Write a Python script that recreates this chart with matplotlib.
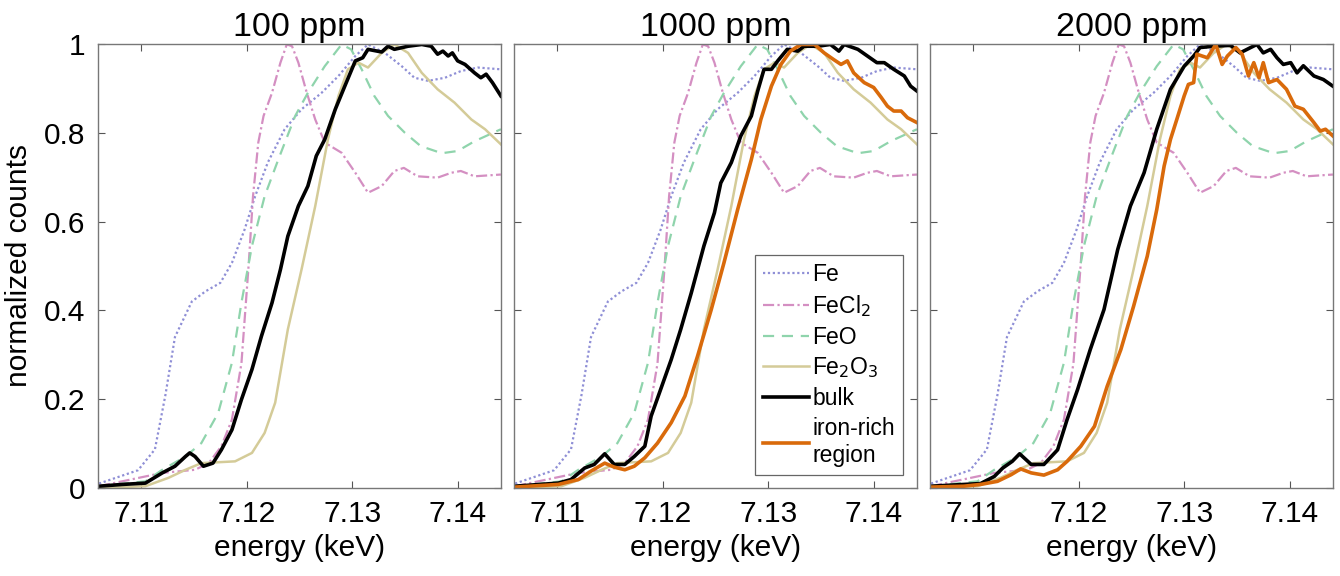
import matplotlib
matplotlib.use('Agg')
import matplotlib.pyplot as plt

plt.rcParams['font.family'] = ['Liberation Sans', 'DejaVu Sans']

# reference spectra (same in every panel)
fe_e = [7.106, 7.1097, 7.1113, 7.1123, 7.1132, 7.1148, 7.1161, 7.1175, 7.1186, 7.1198, 7.1208,
        7.1220, 7.1236, 7.1252, 7.1271, 7.1287, 7.1303, 7.1315, 7.1331, 7.1347, 7.1359, 7.1372,
        7.1388, 7.1403, 7.1419, 7.1441]
fe_y = [0.01, 0.04, 0.087, 0.21, 0.34, 0.42, 0.443, 0.462, 0.507, 0.582, 0.657,
        0.733, 0.808, 0.853, 0.89, 0.928, 0.973, 0.999, 0.98, 0.95, 0.924, 0.917,
        0.924, 0.939, 0.947, 0.943]

fecl2_e = [7.106, 7.112, 7.1151, 7.1164, 7.1176, 7.1186, 7.1195, 7.1202, 7.1206, 7.1211, 7.1216,
           7.1224, 7.1232, 7.1238, 7.1243, 7.1249, 7.1257, 7.1265, 7.1274, 7.129, 7.1303, 7.1315,
           7.1328, 7.1340, 7.1349, 7.1362, 7.1381, 7.1394, 7.1403, 7.1416, 7.1441]
fecl2_y = [0.004, 0.034, 0.041, 0.056, 0.094, 0.154, 0.28, 0.507, 0.657, 0.778, 0.838,
           0.89, 0.958, 0.999, 0.995, 0.958, 0.89, 0.83, 0.778, 0.755, 0.71, 0.665,
           0.68, 0.714, 0.721, 0.702, 0.699, 0.71, 0.714, 0.702, 0.706]

feo_e = [7.106, 7.1104, 7.112, 7.1142, 7.1157, 7.1173, 7.1186, 7.1195, 7.1205, 7.1217, 7.123,
         7.1246, 7.1258, 7.1274, 7.129, 7.1299, 7.1309, 7.1321, 7.1334, 7.135, 7.1365, 7.1385,
         7.14, 7.1416, 7.1441]
feo_y = [0.004, 0.015, 0.041, 0.071, 0.101, 0.169, 0.282, 0.417, 0.545, 0.657, 0.74,
         0.838, 0.89, 0.95, 0.999, 0.988, 0.943, 0.883, 0.838, 0.8, 0.77, 0.754,
         0.759, 0.781, 0.808]

fe2o3_e = [7.106, 7.1104, 7.1126, 7.1142, 7.1157, 7.1189, 7.1205, 7.1217, 7.1227, 7.1239, 7.1252,
           7.1265, 7.1277, 7.1287, 7.1296, 7.1306, 7.1315, 7.1328, 7.134, 7.1353, 7.1366, 7.1381,
           7.1397, 7.1413, 7.1426, 7.1441]
fe2o3_y = [0.0, 0.004, 0.023, 0.041, 0.056, 0.06, 0.079, 0.124, 0.192, 0.357, 0.492,
           0.635, 0.785, 0.883, 0.943, 0.958, 0.947, 0.98, 0.999, 0.98, 0.935, 0.898,
           0.868, 0.83, 0.808, 0.774]

# bulk spectra, one per concentration
bulk_e = [
    [7.106, 7.1082, 7.1104, 7.112, 7.1132, 7.1142, 7.1146, 7.1151, 7.1159, 7.1168, 7.1176,
     7.1186, 7.1195, 7.1205, 7.1214, 7.1224, 7.1232, 7.1239, 7.1249, 7.1258, 7.1266, 7.1274,
     7.1284, 7.1293, 7.1303, 7.131, 7.1315, 7.1328, 7.1334, 7.134, 7.1353, 7.1366, 7.1375,
     7.1381, 7.1386, 7.1391, 7.1395, 7.14, 7.1407, 7.1416, 7.1422, 7.1427, 7.1433, 7.1441],
    [7.106, 7.1101, 7.1113, 7.1126, 7.1135, 7.1145, 7.1154, 7.1164, 7.1173, 7.1183, 7.1189,
     7.1198, 7.1208, 7.1217, 7.1227, 7.1239, 7.1249, 7.1255, 7.1265, 7.1274, 7.1284, 7.129,
     7.1296, 7.1303, 7.1309, 7.1318, 7.1328, 7.1334, 7.1347, 7.1359, 7.1367, 7.1372, 7.1385,
     7.1394, 7.1403, 7.141, 7.1419, 7.1429, 7.1435, 7.1441],
    [7.106, 7.1107, 7.112, 7.1128, 7.1137, 7.1144, 7.1155, 7.1167, 7.118, 7.1189, 7.1199,
     7.1211, 7.1224, 7.1237, 7.1249, 7.1262, 7.1274, 7.1287, 7.13, 7.1309, 7.1315, 7.1328,
     7.1344, 7.1353, 7.1363, 7.1369, 7.1375, 7.1382, 7.1388, 7.1394, 7.1401, 7.1407, 7.1413,
     7.1423, 7.1432, 7.1441],
]
bulk_y = [
    [0.004, 0.008, 0.011, 0.034, 0.049, 0.071, 0.079, 0.071, 0.049, 0.056, 0.086,
     0.131, 0.199, 0.267, 0.342, 0.417, 0.492, 0.567, 0.635, 0.68, 0.748, 0.785,
     0.853, 0.905, 0.962, 0.969, 0.988, 0.982, 0.995, 0.988, 0.995, 0.999, 0.995,
     0.977, 0.984, 0.973, 0.98, 0.962, 0.954, 0.935, 0.924, 0.932, 0.913, 0.883],
    [0.004, 0.011, 0.019, 0.045, 0.053, 0.077, 0.053, 0.053, 0.071, 0.094, 0.162,
     0.222, 0.289, 0.357, 0.439, 0.545, 0.62, 0.687, 0.733, 0.793, 0.838, 0.894,
     0.943, 0.943, 0.962, 0.988, 0.984, 0.995, 0.995, 0.999, 0.984, 0.999, 0.988,
     0.973, 0.958, 0.958, 0.943, 0.928, 0.905, 0.894],
    [0.004, 0.01, 0.026, 0.045, 0.06, 0.077, 0.053, 0.053, 0.086, 0.154, 0.222,
     0.312, 0.402, 0.537, 0.635, 0.71, 0.808, 0.898, 0.95, 0.973, 0.992, 0.995,
     0.997, 0.98, 0.992, 0.999, 0.98, 0.988, 0.969, 0.954, 0.958, 0.935, 0.951,
     0.928, 0.92, 0.905],
]

# iron-rich region (only 1000 and 2000 ppm)
rich_e = [
    None,
    [7.106, 7.1101, 7.112, 7.1132, 7.1145, 7.1154, 7.1164, 7.1173, 7.1183, 7.1195, 7.1208,
     7.1221, 7.1233, 7.1246, 7.1258, 7.1271, 7.1284, 7.1293, 7.1303, 7.1312, 7.1321, 7.1331,
     7.1344, 7.1353, 7.1362, 7.1369, 7.1375, 7.1381, 7.1391, 7.14, 7.1407, 7.1413, 7.1419,
     7.1426, 7.1432, 7.1441],
    [7.106, 7.1091, 7.1107, 7.1123, 7.1136, 7.1145, 7.1155, 7.1167, 7.118, 7.1189, 7.1202,
     7.1215, 7.1227, 7.124, 7.1252, 7.1265, 7.1274, 7.1281, 7.1287, 7.1293, 7.13, 7.1304,
     7.1309, 7.1312, 7.1322, 7.133, 7.1336, 7.1341, 7.1349, 7.1355, 7.1361, 7.1366, 7.1371,
     7.1375, 7.138, 7.1388, 7.1397, 7.1405, 7.1413, 7.1423, 7.1429, 7.1434, 7.1441],
]
rich_y = [
    None,
    [0.002, 0.008, 0.019, 0.038, 0.056, 0.047, 0.041, 0.049, 0.068, 0.101, 0.147,
     0.207, 0.297, 0.402, 0.507, 0.627, 0.74, 0.83, 0.905, 0.954, 0.984, 0.999,
     0.999, 0.98, 0.965, 0.954, 0.962, 0.935, 0.913, 0.902, 0.88, 0.86, 0.849,
     0.849, 0.834, 0.823],
    [0.002, 0.004, 0.008, 0.015, 0.03, 0.043, 0.034, 0.029, 0.041, 0.06, 0.094,
     0.139, 0.229, 0.312, 0.409, 0.522, 0.627, 0.725, 0.785, 0.83, 0.883, 0.909,
     0.913, 0.977, 0.969, 0.999, 0.954, 0.973, 0.992, 0.977, 0.928, 0.958, 0.924,
     0.958, 0.913, 0.92, 0.898, 0.86, 0.853, 0.823, 0.804, 0.808, 0.793],
]

titles = ['100 ppm', '1000 ppm', '2000 ppm']
x_ticks = [7.11, 7.12, 7.13, 7.14]
y_ticks = [0, 0.2, 0.4, 0.6, 0.8, 1]
y_tick_labels = ['0', '0.2', '0.4', '0.6', '0.8', '1']

c_fe = '#8f8fd6'
c_fecl2 = '#d48fc2'
c_feo = '#8fd4ac'
c_fe2o3 = '#d4cb98'
c_rich = '#d96a0b'

fig = plt.figure(figsize=(13.4, 5.76), dpi=100)
lefts = [0.0731, 0.3836, 0.694]

for i in range(3):
    ax = fig.add_axes([lefts[i], 0.1528, 0.3007, 0.7708])
    ax.plot(fe_e, fe_y, color=c_fe, lw=1.6, ls=(0, (1, 1.2)), label='Fe')
    ax.plot(fecl2_e, fecl2_y, color=c_fecl2, lw=1.6, ls=(0, (5, 1.5, 1, 1.5)), label='FeCl$_2$')
    ax.plot(feo_e, feo_y, color=c_feo, lw=1.6, ls=(0, (5, 3.5)), label='FeO')
    ax.plot(fe2o3_e, fe2o3_y, color=c_fe2o3, lw=1.8, label='Fe$_2$O$_3$')
    ax.plot(bulk_e[i], bulk_y[i], color='black', lw=2.6, label='bulk')
    if rich_e[i] is not None:
        ax.plot(rich_e[i], rich_y[i], color=c_rich, lw=2.6, label='iron-rich\nregion')

    ax.set_xlim(7.1059, 7.1441)
    ax.set_ylim(0, 1)
    ax.set_xticks(x_ticks)
    ax.set_xticklabels(['%.2f' % t for t in x_ticks])
    ax.set_yticks(y_ticks)
    if i == 0:
        ax.set_yticklabels(y_tick_labels)
        ax.set_ylabel('normalized counts', fontsize=21.5, labelpad=8)
    else:
        ax.set_yticklabels([])
    ax.tick_params(direction='in', top=True, right=True, length=5, width=0.8,
                   color='#555555', labelsize=21.5, pad=9)
    for s in ax.spines.values():
        s.set_color('#777777')
        s.set_linewidth(1.0)
    ax.set_title(titles[i], fontsize=24.5, pad=6)
    ax.set_xlabel('energy (keV)', fontsize=21.5, labelpad=4)

    if i == 1:
        leg = ax.legend(loc='lower right', bbox_to_anchor=(0.965, 0.03), fontsize=16.5,
                        handlelength=2.0, handletextpad=0.15, borderpad=0.35,
                        labelspacing=0.3, fancybox=False, framealpha=1, borderaxespad=0)
        leg.get_frame().set_edgecolor('#666666')
        leg.get_frame().set_linewidth(0.9)

fig.savefig('out.png', dpi=100)
